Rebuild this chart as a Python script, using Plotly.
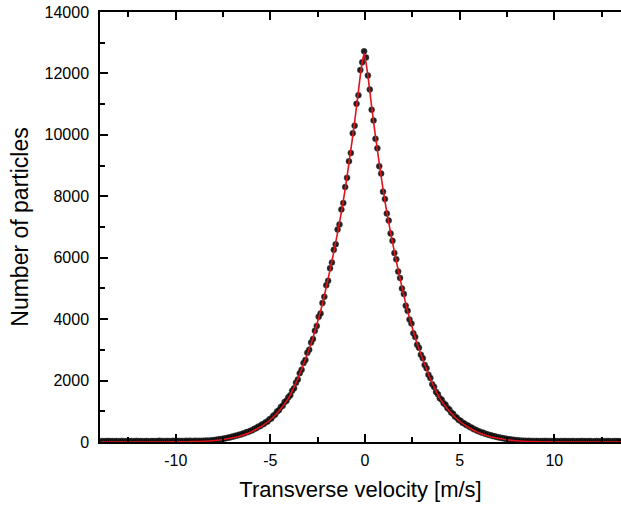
import plotly.graph_objects as go

# Bin centres of the transverse velocity histogram [m/s]
velocity = [
    -13.95, -13.85, -13.75, -13.65, -13.55, -13.45, -13.35, -13.25, -13.15, -13.05,
    -12.95, -12.85, -12.75, -12.65, -12.55, -12.45, -12.35, -12.25, -12.15, -12.05,
    -11.95, -11.85, -11.75, -11.65, -11.55, -11.45, -11.35, -11.25, -11.15, -11.05,
    -10.95, -10.85, -10.75, -10.65, -10.55, -10.45, -10.35, -10.25, -10.15, -10.05,
    -9.95, -9.85, -9.75, -9.65, -9.55, -9.45, -9.35, -9.25, -9.15, -9.05,
    -8.95, -8.85, -8.75, -8.65, -8.55, -8.45, -8.35, -8.25, -8.15, -8.05,
    -7.95, -7.85, -7.75, -7.65, -7.55, -7.45, -7.35, -7.25, -7.15, -7.05,
    -6.95, -6.85, -6.75, -6.65, -6.55, -6.45, -6.35, -6.25, -6.15, -6.05,
    -5.95, -5.85, -5.75, -5.65, -5.55, -5.45, -5.35, -5.25, -5.15, -5.05,
    -4.95, -4.85, -4.75, -4.65, -4.55, -4.45, -4.35, -4.25, -4.15, -4.05,
    -3.95, -3.85, -3.75, -3.65, -3.55, -3.45, -3.35, -3.25, -3.15, -3.05,
    -2.95, -2.85, -2.75, -2.65, -2.55, -2.45, -2.35, -2.25, -2.15, -2.05,
    -1.95, -1.85, -1.75, -1.65, -1.55, -1.45, -1.35, -1.25, -1.15, -1.05,
    -0.95, -0.85, -0.75, -0.65, -0.55, -0.45, -0.35, -0.25, -0.15, -0.05,
    0.05, 0.15, 0.25, 0.35, 0.45, 0.55, 0.65, 0.75, 0.85, 0.95,
    1.05, 1.15, 1.25, 1.35, 1.45, 1.55, 1.65, 1.75, 1.85, 1.95,
    2.05, 2.15, 2.25, 2.35, 2.45, 2.55, 2.65, 2.75, 2.85, 2.95,
    3.05, 3.15, 3.25, 3.35, 3.45, 3.55, 3.65, 3.75, 3.85, 3.95,
    4.05, 4.15, 4.25, 4.35, 4.45, 4.55, 4.65, 4.75, 4.85, 4.95,
    5.05, 5.15, 5.25, 5.35, 5.45, 5.55, 5.65, 5.75, 5.85, 5.95,
    6.05, 6.15, 6.25, 6.35, 6.45, 6.55, 6.65, 6.75, 6.85, 6.95,
    7.05, 7.15, 7.25, 7.35, 7.45, 7.55, 7.65, 7.75, 7.85, 7.95,
    8.05, 8.15, 8.25, 8.35, 8.45, 8.55, 8.65, 8.75, 8.85, 8.95,
    9.05, 9.15, 9.25, 9.35, 9.45, 9.55, 9.65, 9.75, 9.85, 9.95,
    10.05, 10.15, 10.25, 10.35, 10.45, 10.55, 10.65, 10.75, 10.85, 10.95,
    11.05, 11.15, 11.25, 11.35, 11.45, 11.55, 11.65, 11.75, 11.85, 11.95,
    12.05, 12.15, 12.25, 12.35, 12.45, 12.55, 12.65, 12.75, 12.85, 12.95,
    13.05, 13.15, 13.25, 13.35, 13.45,
]

# Measured number of particles per bin
counts = [
    26, 31, 23, 29, 34, 25, 30, 21, 32, 27,
    24, 35, 28, 22, 31, 26, 33, 23, 29, 36,
    25, 30, 27, 21, 34, 28, 24, 32, 29, 26,
    33, 37, 28, 31, 25, 35, 30, 27, 38, 32,
    29, 36, 31, 34, 28, 37, 33, 39, 32, 36,
    40, 34, 38, 35, 41, 39, 45, 44, 52, 58,
    62, 75, 80, 94, 99, 116, 122, 141, 148, 169,
    178, 203, 211, 238, 247, 279, 288, 322, 331, 370,
    383, 428, 448, 498, 516, 571, 586, 646, 669, 738,
    768, 853, 892, 990, 1036, 1137, 1183, 1299, 1342, 1460,
    1521, 1672, 1748, 1926, 2035, 2239, 2352, 2571, 2668, 2905,
    3005, 3236, 3352, 3620, 3779, 4075, 4185, 4527, 4730, 5102,
    5247, 5655, 5842, 6258, 6440, 6915, 7085, 7570, 7780, 8300,
    8600, 9140, 9410, 10050, 10300, 11010, 11290, 12110, 12360, 12720,
    12520, 11930, 11480, 10820, 10470, 9870, 9560, 8980, 8740, 8150,
    7910, 7440, 7210, 6790, 6550, 6150, 5950, 5550, 5340, 5000,
    4820, 4440, 4270, 3990, 3860, 3540, 3420, 3170, 3070, 2840,
    2730, 2510, 2400, 2190, 2080, 1880, 1790, 1630, 1555, 1425,
    1375, 1265, 1215, 1105, 1062, 962, 916, 829, 790, 715,
    689, 626, 603, 552, 532, 483, 461, 414, 396, 357,
    343, 310, 298, 268, 256, 229, 219, 194, 186, 162,
    156, 135, 130, 112, 107, 91, 88, 73, 70, 56,
    53, 45, 44, 38, 39, 34, 37, 30, 35, 28,
    34, 31, 26, 33, 29, 36, 27, 32, 25, 30,
    34, 28, 23, 31, 27, 33, 26, 29, 24, 32,
    28, 21, 30, 26, 34, 25, 29, 23, 31, 27,
    20, 28, 32, 24, 26, 30, 23, 27, 33, 25,
    22, 29, 26, 31, 24,
]

# Fitted curve
fit_velocity = [
    -13.95, -12.05, -11.05, -10.05, -9.05, -8.05, -7.55, -7.05, -6.55, -6.05,
    -5.55, -5.05, -4.55, -4.05, -3.8, -3.55, -3.3, -3.05, -2.8, -2.55,
    -2.3, -2.05, -1.85, -1.65, -1.45, -1.25, -1.05, -0.85, -0.65, -0.55,
    -0.45, -0.35, -0.25, -0.15, -0.05,
    0.05, 0.15, 0.25, 0.35, 0.45, 0.55, 0.75, 0.95, 1.15, 1.35,
    1.55, 1.75, 1.95, 2.2, 2.45, 2.7, 2.95, 3.2, 3.45, 3.7,
    3.95, 4.45, 4.95, 5.45, 5.95, 6.45, 6.95, 7.45, 7.95, 8.95,
    9.95, 10.95, 11.95, 13.55,
]
fit_counts = [
    0, 0, 1, 4, 12, 42, 76, 128, 205, 320,
    480, 700, 1010, 1420, 1720, 2060, 2450, 2860, 3300, 3820,
    4380, 5040, 5600, 6190, 6820, 7480, 8230, 9080, 9960, 10420,
    10920, 11420, 11930, 12350, 12650,
    12350, 11930, 11420, 10920, 10420, 9960, 9080, 8230, 7480, 6820,
    6190, 5600, 5040, 4380, 3820, 3300, 2860, 2450, 2060, 1720,
    1420, 1010, 700, 480, 320, 205, 128, 76, 42, 12,
    4, 1, 0, 0,
]

x_ticks = [-10, -5, 0, 5, 10]
x_tick_text = ["-10", "-5", "0", "5", "10"]
x_title = "Transverse velocity [m/s]"
y_title = "Number of particles"

FONT = "Liberation Sans, Arial, sans-serif"

fig = go.Figure()
fig.add_trace(go.Scatter(
    x=velocity, y=counts, mode="markers",
    marker=dict(size=6, color="rgba(0,0,0,0.88)", line=dict(width=0.6, color="rgba(70,70,70,0.8)")),
    showlegend=False, hoverinfo="x+y",
))
fig.add_trace(go.Scatter(
    x=fit_velocity, y=fit_counts, mode="lines",
    line=dict(color="#e3121b", width=1.6, shape="spline", smoothing=0.6),
    showlegend=False,
))

axis_common = dict(
    showline=True, linecolor="black", linewidth=1.5,
    ticks="inside", ticklen=8, tickwidth=1.5, tickcolor="black",
    showgrid=False, zeroline=False,
    tickfont=dict(family=FONT, size=16, color="black"),
)

fig.update_layout(
    width=621, height=505,
    margin=dict(l=100, r=0, t=12, b=63),
    paper_bgcolor="white", plot_bgcolor="white",
    font=dict(family=FONT, color="black"),
    xaxis=dict(
        **axis_common,
        range=[-14.0, 13.52], tickvals=x_ticks, ticktext=x_tick_text, mirror="allticks",
        minor=dict(ticks="inside", ticklen=5, tickwidth=1.5, tickcolor="black", dtick=2.5, tick0=0),
        ticklabelstandoff=3,
        title=dict(text=x_title, font=dict(family=FONT, size=22, color="black"), standoff=14),
    ),
    yaxis=dict(
        **axis_common,
        range=[0, 14000], dtick=2000, tickformat="d", mirror=False,
        minor=dict(ticks="inside", ticklen=5, tickwidth=1.5, tickcolor="black", dtick=1000),
        ticklabelstandoff=6,
        title=dict(text=y_title, font=dict(family=FONT, size=23, color="black"), standoff=9),
    ),
)

fig.write_html("out.html")
